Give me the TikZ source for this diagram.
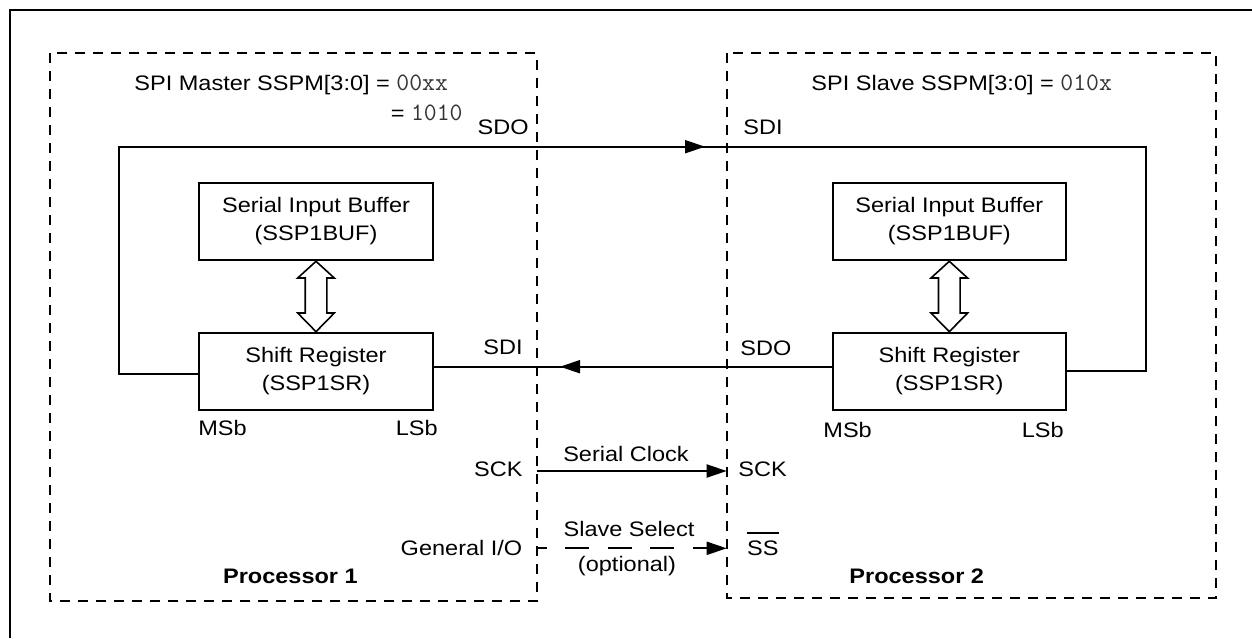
\documentclass[tikz,border=0pt]{standalone}
\usepackage{fontspec}
\setmainfont{Liberation Sans}[FakeStretch=1.12]
\usetikzlibrary{arrows.meta,calc}
\newcommand{\mymono}[1]{{\ttfamily\fontsize{12.5pt}{14pt}\selectfont\color{black!80}#1}}
\newcommand{\vdblarrow}[2]{%
  \path (#1.south) coordinate (t) (#2.north) coordinate (b);
  \draw[line width=0.8pt, fill=white] (t) -- ($(t)+(18.3,16.7)$) -- ($(t)+(10.8,16.7)$)
    -- ($(b)+(10.8,-18.7)$) -- ($(b)+(18.3,-18.7)$) -- (b) -- ($(b)+(-18.3,-18.7)$)
    -- ($(b)+(-10.8,-18.7)$) -- ($(t)+(-10.8,16.7)$) -- ($(t)+(-18.3,16.7)$) -- cycle;}
\begin{document}
\begin{tikzpicture}[x=0.5pt,y=-0.5pt,
  every node/.style={font=\fontsize{10.5pt}{14pt}\selectfont, inner sep=0pt},
  regbox/.style={draw, line width=1pt, minimum width=116.7pt, minimum height=38.8pt, align=center},
  wire/.style={line width=1pt},
  procbox/.style={line width=1pt, dash pattern=on 5pt off 4pt},
  tip/.style={line width=1pt, -{Triangle[length=10pt,width=6.5pt]}},
  lbl/.style={anchor=base west},
  lblr/.style={anchor=base east},
  lblc/.style={anchor=base}]
\useasboundingbox (0,0) rectangle (1252,638);
% outer frame (cropped)
\draw[line width=1pt] (9.5,638) -- (9.5,9.5) -- (1252,9.5);
% processor boxes
\draw[procbox] (49.5,53.3) rectangle (536.7,601);
\draw[procbox] (727.3,53.3) rectangle (1216,598.3);
% registers
\node[regbox] (sib1) at (316,221.5) {Serial Input Buffer\\(SSP1BUF)};
\node[regbox] (sr1) at (316,371.5) {Shift Register\\(SSP1SR)};
\node[regbox] (sib2) at (949.3,221.5) {Serial Input Buffer\\(SSP1BUF)};
\node[regbox] (sr2) at (949.3,371.5) {Shift Register\\(SSP1SR)};
\vdblarrow{sib1}{sr1}
\vdblarrow{sib2}{sr2}
% loop wire SDO -> SDI
\coordinate (lc) at (119,374);
\coordinate (tl) at (119,146.7);
\coordinate (tr) at (1146,146.7);
\coordinate (rc) at (1146,370.7);
\draw[wire] (sr1.west |- lc) -- (lc) -- (tl) -- (tr) -- (rc) -- (sr2.east |- rc);
\coordinate (sdoTip) at (705,146.7);
\draw[tip] ($(sdoTip)+(-25,0)$) -- (sdoTip);
% SDO (slave) -> SDI (master)
\coordinate (sdiTip) at (560,366.7);
\draw[wire] (sr2.west |- sdiTip) -- (sr1.east |- sdiTip);
\draw[tip] ($(sdiTip)+(25,0)$) -- (sdiTip);
% serial clock
\coordinate (sckA) at (536.7,471);
\coordinate (sckB) at (726.7,471);
\draw[tip] (sckA) -- (sckB);
% slave select
\coordinate (ssA) at (536.7,548.3);
\coordinate (ssB) at (726.7,548.3);
\draw[tip, dash pattern=on 12pt off 9.25pt, dash phase=7pt] (ssA) -- (ssB);
% labels
\node[lbl] (mt) at (134,90) {SPI Master SSPM[3:0] = \mymono{00xx}};
\node[lblr] (mt2) at (463,120) {= \mymono{1010}};
\node[lblr] (sdo1) at (529,134) {SDO};
\node[lbl] (sdi2) at (743,134) {SDI};
\node[lbl] (st) at (811,90) {SPI Slave SSPM[3:0] = \mymono{010x}};
\node[lblr] (sdi1) at (523,354.7) {SDI};
\node[lbl] (sdo2) at (740,355) {SDO};
\node[lbl] (msb1) at (198,435) {MSb};
\node[lblr] (lsb1) at (438,435) {LSb};
\node[lbl] (msb2) at (823,437) {MSb};
\node[lblr] (lsb2) at (1064,437) {LSb};
\node[lblr] (sck1) at (523,476.7) {SCK};
\node[lbl] (sck2) at (738,476.7) {SCK};
\node[lblc] (sclk) at (626,461.7) {Serial Clock};
\node[lblc] (ssel) at (629,536.7) {Slave Select};
\node[lblc] (opt) at (627,571.7) {(optional)};
\node[lblr] (gio) at (522.7,555.7) {General I/O};
\node[lbl] (ss) at (746.7,555.7) {SS};
\draw[line width=1pt] ($(ss.base west)+(0,-22.7)$) -- ($(ss.base east)+(0,-22.7)$);
\node[lbl, font=\fontsize{10.5pt}{14pt}\selectfont\bfseries] (p1) at (222.7,583.3) {Processor 1};
\node[lbl, font=\fontsize{10.5pt}{14pt}\selectfont\bfseries] (p2) at (849,583.3) {Processor 2};
\end{tikzpicture}
\end{document}
